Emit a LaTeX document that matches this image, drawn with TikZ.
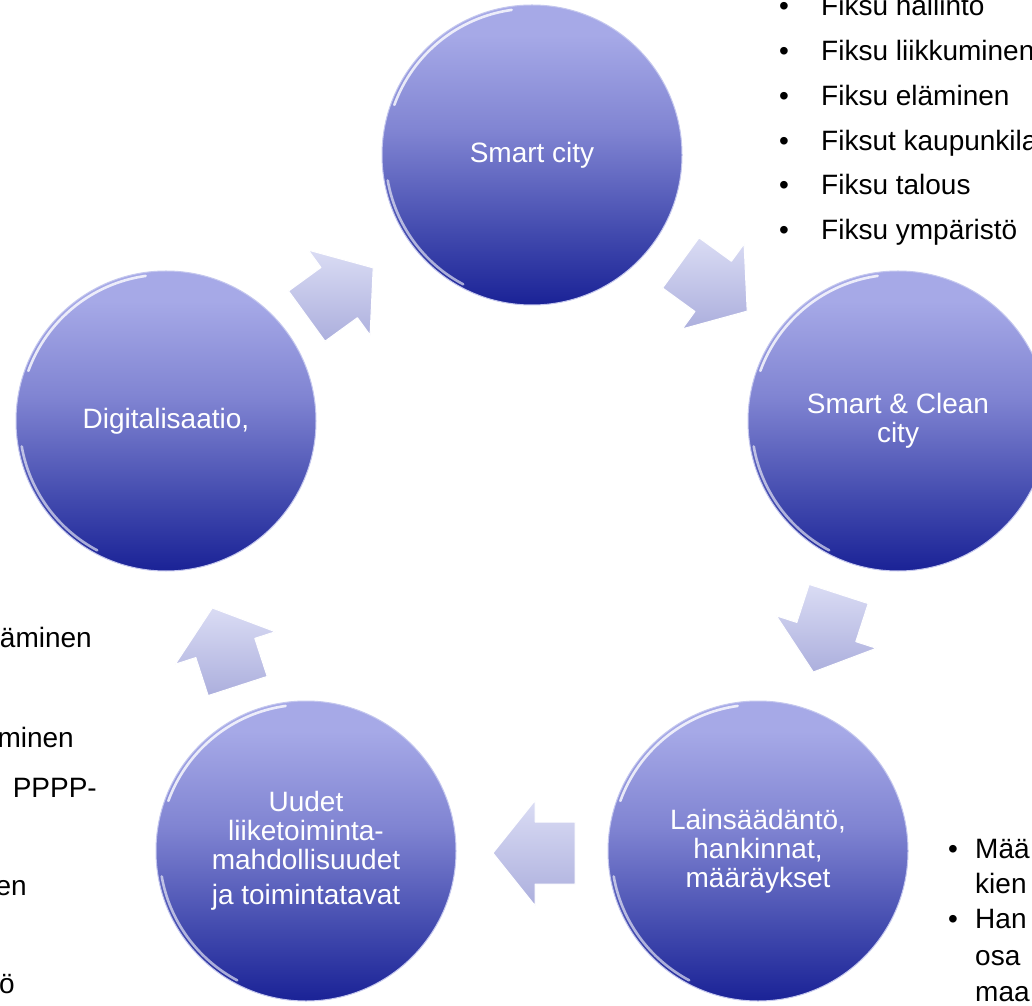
\documentclass[tikz,border=0pt]{standalone}
\usepackage{fontspec}
\setmainfont{Liberation Sans}
\definecolor{ballLight}{RGB}{166,169,231}
\definecolor{ballMid}{RGB}{128,132,210}
\definecolor{ballMidDark}{RGB}{66,74,174}
\definecolor{ballDark}{RGB}{26,34,150}
\definecolor{ballEdge}{RGB}{196,199,238}
\definecolor{arrLight}{RGB}{218,220,244}
\definecolor{arrDark}{RGB}{172,175,221}
\pgfdeclareverticalshading{ballshade}{100bp}{color(0bp)=(ballDark); color(25bp)=(ballDark); color(37bp)=(ballMidDark); color(54bp)=(ballMid); color(70bp)=(ballLight); color(100bp)=(ballLight)}
\tikzset{
  ball/.style={circle, minimum size=300pt, inner sep=0pt, shade, shading=ballshade,
    draw=ballEdge, line width=1pt, text=white, align=center,
    font=\fontsize{28}{29}\selectfont},
  blockarr/.style={draw=white, line width=1pt, line join=round, top color=arrLight, bottom color=arrDark},
  listtxt/.style={font=\fontsize{28}{34}\selectfont, inner sep=0pt, text=black},
  shine/.style={white, opacity=0.8, line width=2.6pt, line cap=round}
}
\newcommand{\blockarrow}[2]{%
  \draw[blockarr, shift={(#1)}, rotate=#2]
    (-41,31) -- (-1,31) -- (-1,52.5) -- (41,0) -- (-1,-52.5) -- (-1,-31) -- (-41,-31) -- cycle;}
\begin{document}
\begin{tikzpicture}[x=1pt,y=1pt]
\useasboundingbox (0,0) rectangle (1032,1005);
\clip (0,0) rectangle (1032,1005);
\fill[white] (0,0) rectangle (1032,1005);

% circles
\node[ball] (smart) at (532,850) {Smart city};
\node[ball] (clean) at (898,584) {Smart \& Clean\\city};
\node[ball] (lain)  at (758,154) {Lainsäädäntö,\\hankinnat,\\määräykset};
\node[ball] (uudet) at (306,154) {Uudet\\liiketoiminta-\\mahdollisuudet\\[6pt]ja toimintatavat};
\node[ball] (digi)  at (166,584) {Digitalisaatio,};

\foreach \n in {smart,clean,lain,uudet,digi}{
  \draw[shine] (\n.center) ++(98:146.5) arc[start angle=98,end angle=160,radius=146.5];
  \draw[shine, opacity=0.6] (\n.center) ++(190:146.5) arc[start angle=190,end angle=242,radius=146.5];
}

% block arrows between the circles
\coordinate (a1) at (340,713);
\coordinate (a2) at (714,718);
\coordinate (a3) at (826,372);
\coordinate (a4) at (534,152);
\coordinate (a5) at (225,358);
\blockarrow{a1}{36}
\blockarrow{a2}{-36}
\blockarrow{a3}{-108}
\blockarrow{a4}{180}
\blockarrow{a5}{108}

% top right list
\node[listtxt, anchor=base] (tb1) at (784,989) {•};
\node[listtxt, anchor=base west] (tt1) at (821,989) {Fiksu hallinto};
\node[listtxt, anchor=base] (tb2) at (784,944) {•};
\node[listtxt, anchor=base west] (tt2) at (821,944) {Fiksu liikkuminen};
\node[listtxt, anchor=base] (tb3) at (784,899.5) {•};
\node[listtxt, anchor=base west] (tt3) at (821,899.5) {Fiksu eläminen};
\node[listtxt, anchor=base] (tb4) at (784,854.5) {•};
\node[listtxt, anchor=base west] (tt4) at (821,854.5) {Fiksut kaupunkila};
\node[listtxt, anchor=base] (tb5) at (784,810) {•};
\node[listtxt, anchor=base west] (tt5) at (821,810) {Fiksu talous};
\node[listtxt, anchor=base] (tb6) at (784,765) {•};
\node[listtxt, anchor=base west] (tt6) at (821,765) {Fiksu ympäristö};

% bottom right list
\node[listtxt, anchor=base] (rb1) at (953,147) {•};
\node[listtxt, anchor=base west] (rt1) at (975,147) {Mää};
\node[listtxt, anchor=base west] (rt2) at (975,112) {kien};
\node[listtxt, anchor=base] (rb3) at (953,77) {•};
\node[listtxt, anchor=base west] (rt3) at (975,77) {Han};
\node[listtxt, anchor=base west] (rt4) at (975,40) {osa};
\node[listtxt, anchor=base west] (rt5) at (975,4) {maa};

% left list fragments
\node[listtxt, anchor=base east] (l1) at (92,358) {äminen};
\node[listtxt, anchor=base east] (l2) at (74,258) {minen};
\node[listtxt, anchor=base east] (l3) at (97,208) {PPPP-};
\node[listtxt, anchor=base east] (l4) at (27,110) {en};
\node[listtxt, anchor=base east] (l5) at (15,12) {ö};
\end{tikzpicture}
\end{document}
